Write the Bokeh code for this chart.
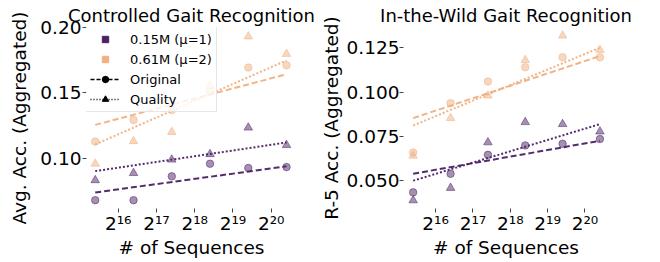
from bokeh.plotting import figure
from bokeh.models import (ColumnDataSource, FixedTicker, PrintfTickFormatter,
                          Legend, LegendItem, Range1d)
from bokeh.layouts import row
from bokeh.embed import file_html
from bokeh.resources import INLINE

# ---------------- data ----------------
num_sequences = [43_200, 86_500, 173_000, 346_000, 692_000, 1_384_000]
x_tick_values = [2**16, 2**17, 2**18, 2**19, 2**20]
x_tick_labels = ["2¹⁶", "2¹⁷", "2¹⁸", "2¹⁹", "2²⁰"]

# Controlled gait recognition (Avg. Acc.)
ctrl_small_original = [0.0677, 0.0677, 0.0860, 0.0957, 0.0924, 0.0931]
ctrl_small_quality = [0.0830, 0.0885, 0.0988, 0.1030, 0.1234, 0.1100]
ctrl_large_original = [0.1127, 0.1293, 0.1370, 0.1510, 0.1695, 0.1713]
ctrl_large_quality = [0.0957, 0.1130, 0.1200, 0.1555, 0.1934, 0.1800]
ctrl_small_original_trend = [0.0736, 0.0937]
ctrl_small_quality_trend = [0.0900, 0.1120]
ctrl_large_original_trend = [0.1255, 0.1644]
ctrl_large_quality_trend = [0.1105, 0.1750]
ctrl_y_ticks = [0.10, 0.15, 0.20]

# In-the-wild gait recognition (R-5 Acc.)
wild_small_original = [0.0434, 0.0539, 0.0646, 0.0699, 0.0708, 0.0735]
wild_small_quality = [0.0389, 0.0459, 0.0716, 0.0830, 0.0819, 0.0777]
wild_large_original = [0.0659, 0.0937, 0.1059, 0.1140, 0.1196, 0.1196]
wild_large_quality = [0.0641, 0.0853, 0.0980, 0.1180, 0.1318, 0.1237]
wild_small_original_trend = [0.0539, 0.0725]
wild_small_quality_trend = [0.0500, 0.0819]
wild_large_original_trend = [0.0853, 0.1203]
wild_large_quality_trend = [0.0811, 0.1250]
wild_y_ticks = [0.050, 0.075, 0.100, 0.125]

model_labels = ["0.15M (μ=1)", "0.61M (μ=2)"]
variant_labels = ["Original", "Quality"]

# ---------------- style ----------------
PURPLE = "#4b2164"
ORANGE = "#f0b07f"
FONT = "DejaVu Sans"
FS = "18.5px"


def make_fig(title, ylabel, x_lo, x_hi, y_lo, y_hi, y_ticks, y_fmt,
             width, min_left, min_right, ylab_standoff, ytick_standoff, series, trends):
    p = figure(width=width, height=260, x_axis_type="log",
               x_range=Range1d(x_lo, x_hi), y_range=Range1d(y_lo, y_hi),
               output_backend="svg", toolbar_location=None,
               min_border_left=min_left, min_border_right=min_right,
               min_border_top=27, min_border_bottom=51)
    p.outline_line_color = None
    p.grid.visible = False

    p.title.text = title
    p.title.align = "center"
    p.title.text_font = FONT
    p.title.text_font_size = "18px"
    p.title.text_font_style = "normal"
    p.title.text_color = "black"
    p.title.standoff = 3

    for ax in (p.xaxis[0], p.yaxis[0]):
        ax.axis_line_color = None
        ax.major_tick_in = 0
        ax.major_tick_out = 4
        ax.minor_tick_line_color = None
        ax.major_tick_line_color = "#444444"
        ax.major_label_text_font = FONT
        ax.major_label_text_font_size = FS
        ax.major_label_text_color = "black"
        ax.axis_label_text_font = FONT
        ax.axis_label_text_font_size = FS
        ax.axis_label_text_font_style = "normal"
        ax.axis_label_text_color = "black"

    p.xaxis.ticker = FixedTicker(ticks=x_tick_values)
    p.xaxis.major_label_overrides = {float(v): s for v, s in zip(x_tick_values, x_tick_labels)}
    p.xaxis.axis_label = "# of Sequences"
    p.xaxis.major_label_standoff = 0
    p.xaxis.axis_label_standoff = 0

    p.yaxis.ticker = FixedTicker(ticks=y_ticks)
    p.yaxis.formatter = PrintfTickFormatter(format=y_fmt)
    p.yaxis.axis_label = ylabel
    p.yaxis.major_label_standoff = ytick_standoff
    p.yaxis.axis_label_standoff = ylab_standoff

    x_ends = [num_sequences[0], num_sequences[-1]]
    for (vals, color, marker) in series:
        p.scatter(x=num_sequences, y=vals, marker=marker,
                  size=7.5 if marker == "circle" else 8.5,
                  fill_color=color, line_color=color, fill_alpha=0.5, line_alpha=0.5)
    for (vals, color, dash) in trends:
        p.line(x=x_ends, y=vals, line_color=color, line_width=2, line_dash=dash, line_alpha=0.95)
    return p


DASH = "6 3"
DOT = "2 2"

p1 = make_fig("Controlled Gait Recognition", "Avg. Acc. (Aggregated)",
              2**15.171, 2**20.661, 0.0613, 0.2003, ctrl_y_ticks, "%.2f",
              317, 86, 21, 7, 1,
              [(ctrl_small_original, PURPLE, "circle"), (ctrl_small_quality, PURPLE, "triangle"),
               (ctrl_large_original, ORANGE, "circle"), (ctrl_large_quality, ORANGE, "triangle")],
              [(ctrl_small_original_trend, PURPLE, DASH), (ctrl_small_quality_trend, PURPLE, DOT),
               (ctrl_large_original_trend, ORANGE, DASH), (ctrl_large_quality_trend, ORANGE, DOT)])

p2 = make_fig("In-the-Wild Gait Recognition", "R-5 Acc. (Aggregated)",
              2**15.14, 2**20.63, 0.0343, 0.1364, wild_y_ticks, "%.3f",
              321, 81, 30, 2, 0,
              [(wild_small_original, PURPLE, "circle"), (wild_small_quality, PURPLE, "triangle"),
               (wild_large_original, ORANGE, "circle"), (wild_large_quality, ORANGE, "triangle")],
              [(wild_small_original_trend, PURPLE, DASH), (wild_small_quality_trend, PURPLE, DOT),
               (wild_large_original_trend, ORANGE, DASH), (wild_large_quality_trend, ORANGE, DOT)])

# legend proxies (left panel only); NaN points draw nothing in the plot itself
nan_src = lambda: ColumnDataSource(dict(x=[float("nan")], y=[float("nan")]))
sq_small = p1.scatter(x="x", y="y", source=nan_src(), marker="square", color=PURPLE)
sq_large = p1.scatter(x="x", y="y", source=nan_src(), marker="square", color=ORANGE)
ln_orig = p1.line(x="x", y="y", source=nan_src(), line_color="black",
                  line_width=1.5, line_dash="4 2")
mk_orig = p1.scatter(x="x", y="y", source=nan_src(), marker="circle", color="black")
ln_qual = p1.line(x="x", y="y", source=nan_src(), line_color="black",
                  line_width=1.5, line_dash="1 2")
mk_qual = p1.scatter(x="x", y="y", source=nan_src(), marker="triangle", color="black")

legend = Legend(items=[
    LegendItem(label=model_labels[0], renderers=[sq_small]),
    LegendItem(label=model_labels[1], renderers=[sq_large]),
    LegendItem(label=variant_labels[0], renderers=[ln_orig, mk_orig]),
    LegendItem(label=variant_labels[1], renderers=[ln_qual, mk_qual]),
], location="top_left", margin=-1, padding=4, spacing=4,
    glyph_width=30, glyph_height=16, label_standoff=10,
    label_text_font=FONT, label_text_font_size="13px", label_text_color="black",
    border_line_color="#d0d0d0", border_line_width=1,
    background_fill_color="white", background_fill_alpha=0.8)
p1.add_layout(legend)

layout = row(p1, p2)
open("out.html", "w").write(file_html(layout, INLINE))
